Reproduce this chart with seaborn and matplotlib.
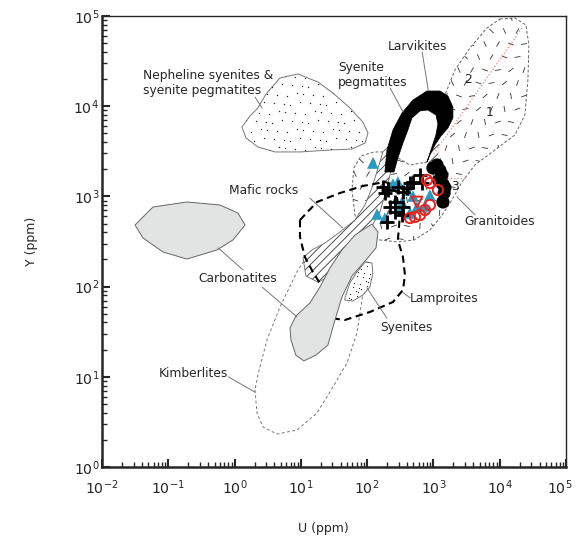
import numpy as np
import matplotlib
matplotlib.use('Agg')
import matplotlib.pyplot as plt
import seaborn as sns
from matplotlib.patches import Polygon
from matplotlib.collections import LineCollection
from matplotlib.ticker import FixedLocator, LogLocator, NullFormatter
from matplotlib.transforms import ScaledTranslation

sns.set_style('ticks')
plt.rcParams['font.family'] = ['DejaVu Sans']
plt.rcParams['hatch.linewidth'] = 0.6

# ---- field outlines (U ppm, Y ppm) ----
nep_u = [1.29, 1.71, 2.25, 2.98, 4.84, 9.0, 18.1, 30.5, 55, 86, 103, 93, 59, 27.5, 9.7, 4.07, 2.25, 1.49]
nep_y = [5880, 7790, 9550, 13650, 20550, 22750, 18550, 14000, 9550, 6680, 5050, 3910, 3350, 3270, 3110, 3110, 3530, 4440]

carb1_u = [0.0315, 0.0415, 0.0832, 0.191, 0.543, 0.946, 1.44, 1.12, 0.602, 0.191, 0.0588]
carb1_y = [482, 346, 242, 202, 255, 329, 482, 655, 803, 867, 763]

carb2_u = [118, 146, 136, 96, 59, 41.7, 32.7, 25.6, 16.9, 11.1, 8.4, 7.1, 6.85, 8.4, 13.7, 19.4, 27.5, 41.7, 65.5]
carb2_y = [494, 403, 268, 197, 131, 76.7, 42.6, 22.5, 17.4, 15.0, 17.4, 25.6, 34.8, 47.2, 65.8, 99, 161, 255, 373]

mafic_u = [10.8, 14.7, 23.1, 38.9, 65.5, 92.7, 118, 146, 173, 221, 263, 221, 185, 156, 118, 77.9, 46.2, 36.3, 27.5, 18.1, 11.9]
mafic_y = [208, 255, 304, 403, 547, 803, 1240, 2065, 3110, 3715, 2877, 1727, 1037, 671, 470, 346, 242, 174, 131, 112, 131]

mafic2_u = [798, 917, 1091, 1253, 1130, 949]
mafic2_y = [2118, 3110, 4220, 3715, 2533, 1963]

larv_u = [185, 199, 245, 335, 491, 798, 1253, 1655, 1968, 1968, 1655, 1297, 1054, 885, 798,
          917, 1091, 1169, 1091, 826, 626, 474, 412, 347, 291, 254]
larv_y = [1865, 3270, 5450, 8410, 11700, 14750, 14750, 12980, 9800, 7400, 5730, 4670, 3715, 2877, 2405,
          3270, 4800, 6350, 7980, 9080, 8850, 7400, 5450, 3910, 2665, 1865]

gran_u = [10070, 16950, 24850, 27550, 26620, 23990, 16950, 8470, 4225, 2690, 1901, 1390, 885, 508, 291,
          156, 86, 65.5, 59, 63.2, 80.7, 127, 206, 442, 798, 1091, 1253, 1490, 2110, 3554, 6410]
gran_y = [92670, 95000, 79450, 47690, 19500, 7980, 4800, 3270, 2230, 1445, 912, 638, 424, 329, 312,
          329, 393, 622, 1178, 2065, 2806, 3110, 3110, 2230, 2405, 4220, 7590, 13310, 25190, 44190, 73650]

kimb_u = [2.03, 2.18, 2.68, 4.36, 8.73, 17.5, 30.5, 49.6, 70.2, 83.5, 103, 27.5, 10.8, 8.7, 4.84, 3.08, 2.25]
kimb_y = [7.14, 3.97, 2.78, 2.32, 2.57, 3.97, 7.71, 14.2, 30.6, 71.0, 187, 178, 187, 145, 59.4, 25.6, 10.5]

lamp_u = [9.7, 9.7, 11.5, 15.2, 21.5, 27.5, 46, 110, 245, 347, 372, 347, 291, 312, 263, 185, 86, 39, 17.5]
lamp_y = [547, 355, 213, 145, 96.5, 44.9, 42.6, 52.3, 67.5, 91.7, 134, 213, 329, 622, 1337, 1445, 1304, 1091, 867]

sye_u = [46.2, 55, 70.2, 92.7, 118, 122, 110, 86, 61, 46.2]
sye_y = [74.8, 110, 145, 187, 183, 141, 99, 80.7, 69.2, 71]

# boundaries between granitoid fields 1, 2, 3
div_u = [21600, 983]
div_y = [73650, 2877]
div3_u = [1598, 3200]
div3_y = [1600, 1600]

# ---- samples ----
tri_u = [122, 141, 185, 245, 291, 335, 398, 491, 564, 745, 885, 442, 312]
tri_y = [2345, 638, 576, 1372, 1445, 867, 1178, 1010, 763, 783, 1037, 655, 744]

cross_u = [185, 199, 221, 263, 291, 347, 398, 442, 491, 626, 671, 263, 335, 206, 347, 173]
cross_y = [1091, 520, 763, 867, 1271, 1119, 1240, 1408, 1445, 1727, 1408, 671, 622, 1178, 763, 1271]

blk_u = [1130, 983, 1250, 1343, 1390, 1490, 1450, 1390, 1200]
blk_y = [2230, 2065, 1950, 1727, 1372, 1250, 1091, 867, 1500]

red_u = [442, 526, 626, 745, 885, 1169, 885, 798]
red_y = [576, 591, 622, 707, 803, 1178, 1408, 1520]

redv_u = [564]
redv_y = [867]

fig = plt.figure(figsize=(5.76, 5.4), dpi=100)
ax = fig.add_axes([102 / 576, 1 - 467 / 540, 464 / 576, 451 / 540])
ax.set_xscale('log')
ax.set_yscale('log')
ax.set_xlim(1e-2, 1e5)
ax.set_ylim(1e0, 1e5)

AW, AH = 464.0, 451.0  # axes size in px


def field(u, y, fc='white', ec='#777777', lw=0.7, ls='-', z=1, hatch=None):
    p = Polygon(np.column_stack([u, y]), closed=True, facecolor=fc, edgecolor=ec,
                lw=lw, ls=ls, zorder=z, hatch=hatch)
    ax.add_patch(p)
    return p


def dashes(patch, box, step, z):
    # decorative short-dash fill pattern
    angles = [70, 115, 20, 160, 85, 40, 135, 100, 60, 170, 10, 125]
    x0, x1, y0, y1 = box
    segs = []
    for i, py in enumerate(np.arange(y0, y1, step)):
        for j, px in enumerate(np.arange(x0 + (i % 2) * step / 2, x1, step)):
            a = np.deg2rad(angles[(i * 5 + j * 7) % len(angles)])
            dx, dy = 3.0 * np.cos(a), 3.0 * np.sin(a)
            segs.append([((px - dx) / AW, (py - dy) / AH), ((px + dx) / AW, (py + dy) / AH)])
    lc = LineCollection(segs, colors='#333333', linewidths=0.6, transform=ax.transAxes, zorder=z)
    ax.add_collection(lc)
    lc.set_clip_path(patch)


def dots(patch, box, step, z, s=1.0):
    x0, x1, y0, y1 = box
    xs, ys = [], []
    for i, py in enumerate(np.arange(y0, y1, step)):
        for j, px in enumerate(np.arange(x0 + (i % 2) * step / 2, x1, step)):
            xs.append((px + ((i * 3 + j * 5) % 4 - 1.5)) / AW)
            ys.append((py + ((i * 7 + j * 3) % 4 - 1.5)) / AH)
    sc = ax.scatter(xs, ys, s=s, c='#222222', lw=0, transform=ax.transAxes, zorder=z)
    sc.set_clip_path(patch)


# granitoid envelope with dash texture
g = field(gran_u, gran_y, ec='#666666', lw=0.7, ls=(0, (3, 2)), z=1)
dashes(g, (240, 440, 215, 460), 13, 1.1)

# kimberlites
field(kimb_u, kimb_y, fc='none', ec='#777777', lw=0.7, ls=(0, (3, 2.5)), z=1.2)

# nepheline syenites
n = field(nep_u, nep_y, z=2)
dots(n, (135, 275, 310, 400), 9, 2.1)

# carbonatites (upper blob)
field(carb1_u, carb1_y, fc='#e2e3e3', ec='#666666', z=2)

# mafic rocks, hatched
field(mafic_u, mafic_y, fc='white', ec='#333333', lw=0, hatch='////', z=3)
field(mafic_u, mafic_y, fc='none', ec='#666666', lw=0.6, z=3.1)
field(mafic2_u, mafic2_y, fc='white', ec='#333333', lw=0, hatch='////', z=3)

# lamproites
field(lamp_u, lamp_y, fc='none', ec='black', lw=1.5, ls=(0, (3.5, 2.2)), z=3.5)

# carbonatites (elongated field)
field(carb2_u, carb2_y, fc='#e2e3e3', ec='#666666', z=4)

# syenites
s = field(sye_u, sye_y, z=4.2)
dots(s, (240, 275, 160, 210), 5, 4.3, s=0.8)

# larvikites
field(larv_u, larv_y, fc='black', ec='black', lw=0.5, z=5)

# field 1/2/3 boundaries
ax.plot(div_u, div_y, ls=':', color='#f08080', lw=0.9, zorder=5.5)
ax.plot(div3_u, div3_y, ls=':', color='#f08080', lw=0.9, zorder=5.5)

# samples
sns.scatterplot(x=blk_u, y=blk_y, marker='o', s=90, color='black', edgecolor='none', ax=ax, zorder=6)
sns.scatterplot(x=tri_u, y=tri_y, marker='^', s=70, color='#2a9bc3', edgecolor='none', ax=ax, zorder=7)
sns.scatterplot(x=cross_u, y=cross_y, marker='+', s=90, color='black', linewidth=2, ax=ax, zorder=8)
ax.scatter(red_u, red_y, marker='o', s=55, facecolors='none', edgecolors='#e8231d', linewidths=1.4, zorder=9)
ax.scatter(redv_u, redv_y, marker='v', s=60, facecolors='none', edgecolors='#e8231d', linewidths=1.4, zorder=9)

# labels and leaders (axes fraction)
fs = 8.8
lead = dict(color='#777777', lw=0.7, transform=ax.transAxes, zorder=10)
txt = dict(transform=ax.transAxes, fontsize=fs, va='center', zorder=10)

ax.text(0.088, 0.851, 'Nepheline syenites &\nsyenite pegmatites', ha='left', linespacing=1.15, **txt)
ax.plot([0.330, 0.345], [0.820, 0.796], **lead)
ax.text(0.509, 0.869, 'Syenite\npegmatites', ha='left', linespacing=1.15, **txt)
ax.plot([0.621, 0.649], [0.840, 0.787], **lead)
ax.text(0.681, 0.933, 'Larvikites', ha='center', **txt)
ax.plot([0.690, 0.703], [0.920, 0.836], **lead)
ax.text(0.836, 0.787, '1', ha='center', **txt)
ax.text(0.789, 0.860, '2', ha='center', **txt)
ax.text(0.761, 0.623, '3', ha='center', **txt)
ax.text(0.782, 0.545, 'Granitoides', ha='left', **txt)
ax.plot([0.765, 0.804], [0.599, 0.559], **lead)
ax.text(0.274, 0.614, 'Mafic rocks', ha='left', **txt)
ax.plot([0.448, 0.519], [0.596, 0.530], **lead)
ax.text(0.207, 0.417, 'Carbonatites', ha='left', **txt)
ax.plot([0.250, 0.304], [0.486, 0.437], **lead)
ax.plot([0.345, 0.420], [0.399, 0.333], **lead)
ax.text(0.599, 0.310, 'Syenites', ha='left', **txt)
ax.plot([0.571, 0.614], [0.397, 0.330], **lead)
ax.text(0.664, 0.373, 'Lamproites', ha='left', **txt)
ax.plot([0.647, 0.664], [0.388, 0.375], **lead)
ax.text(0.123, 0.208, 'Kimberlites', ha='left', **txt)
ax.plot([0.272, 0.330], [0.200, 0.166], **lead)

# axes styling
ax.xaxis.set_major_locator(FixedLocator(10.0 ** np.arange(-2, 6)))
ax.yaxis.set_major_locator(FixedLocator(10.0 ** np.arange(0, 6)))
for a in (ax.xaxis, ax.yaxis):
    a.set_minor_locator(LogLocator(base=10, subs=np.arange(2, 10), numticks=100))
    a.set_minor_formatter(NullFormatter())
ax.tick_params(which='both', direction='in', top=False, right=False, labelsize=10.2)
ax.tick_params(which='major', length=6, width=1.5)
ax.tick_params(which='minor', length=3.5, width=1)
ax.tick_params(axis='x', pad=8)
ax.tick_params(axis='y', pad=2)
for side in ('left', 'bottom'):
    ax.spines[side].set_linewidth(1.8)
for side in ('top', 'right'):
    ax.spines[side].set_linewidth(1.0)
    ax.spines[side].set_visible(True)

# keep the last x label inside the figure
last = ax.get_xticklabels()[-1]
last.set_transform(last.get_transform() + ScaledTranslation(-0.06, 0, fig.dpi_scale_trans))

ax.set_xlabel('U (ppm)', fontsize=9)
ax.set_ylabel('Y (ppm)', fontsize=9)
ax.xaxis.set_label_coords(0.478, -0.122)
ax.yaxis.set_label_coords(-0.138, 0.5)

fig.savefig('out.png', dpi=100)
